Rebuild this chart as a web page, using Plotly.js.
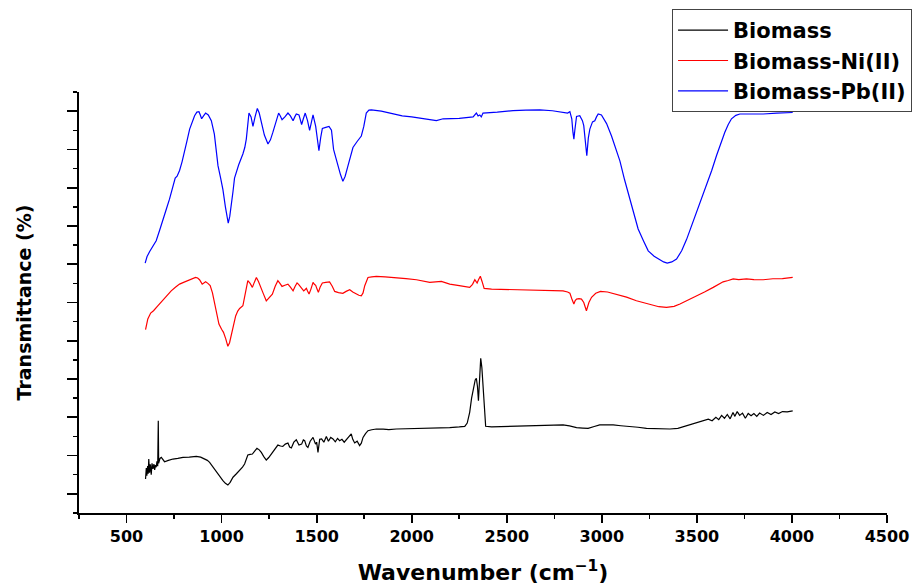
<!DOCTYPE html>
<html>
<head>
<meta charset="utf-8">
<script src="https://cdn.plot.ly/plotly-3.0.1.min.js"></script>
<style>html,body{margin:0;padding:0;background:#fff;}#chart{width:913px;height:585px;}</style>
</head>
<body>
<div id="chart"></div>
<script>
// Series names
const seriesNames = ["Biomass", "Biomass-Ni(II)", "Biomass-Pb(II)"];

// Biomass (black) – wavenumber / transmittance (arbitrary offset units)
const biomassX = [600,604,607,611,614,617,621,625,630,634,639,644,648,652,656,660,664,667,669,672,676,683,690,700,720,744,770,797,830,867,890,911,925,937,955,972,990,1007,1020,1033,1045,1060,1078,1095,1110,1121,1130,1138,1150,1162,1175,1186,1198,1209,1222,1235,1248,1261,1278,1296,1310,1322,1335,1349,1358,1367,1380,1393,1407,1421,1430,1437,1446,1454,1466,1481,1494,1500,1507,1516,1526,1538,1551,1562,1574,1586,1598,1610,1621,1633,1645,1656,1668,1682,1690,1700,1713,1726,1735,1744,1757,1770,1790,1814,1850,1880,1919,1960,2000,2025,2060,2095,2150,2200,2250,2279,2292,2305,2315,2326,2334,2340,2346,2351,2357,2363,2369,2375,2382,2389,2420,2480,2533,2600,2700,2796,2830,2867,2900,2928,2960,2989,3030,3060,3100,3147,3190,3235,3300,3358,3400,3446,3490,3533,3560,3580,3600,3615,3630,3645,3660,3675,3690,3700,3712,3725,3740,3755,3770,3785,3800,3815,3830,3850,3870,3890,3910,3930,3950,3975,4004];
const biomassY = [1.78,2.35,1.95,2.45,2.05,2.82,2.1,2.55,2.0,2.6,2.3,2.56,2.25,2.5,2.39,2.7,2.45,4.82,2.6,2.75,2.85,2.91,2.8,2.68,2.75,2.82,2.85,2.91,2.92,2.96,2.92,2.82,2.75,2.65,2.4,2.13,1.9,1.69,1.55,1.46,1.6,1.87,2.05,2.21,2.4,2.56,2.8,3.03,3.06,3.08,3.25,3.38,3.3,3.17,2.95,2.77,2.9,3.08,3.3,3.55,3.5,3.48,3.6,3.66,3.45,3.4,3.7,3.83,3.55,3.6,3.82,3.78,3.5,3.43,3.75,3.95,3.6,3.7,3.17,3.85,3.87,3.7,4.0,3.75,3.95,3.87,3.72,3.9,3.78,3.85,3.7,3.83,3.95,4.13,3.85,3.66,3.75,3.52,3.65,3.95,4.15,4.3,4.35,4.39,4.38,4.36,4.39,4.4,4.42,4.42,4.42,4.42,4.44,4.46,4.5,4.53,4.7,5.26,6.0,6.65,6.95,7.04,6.6,5.87,7.0,8.08,7.6,6.83,5.6,4.53,4.5,4.52,4.53,4.55,4.58,4.6,4.55,4.46,4.44,4.42,4.52,4.6,4.6,4.6,4.56,4.53,4.48,4.42,4.4,4.39,4.42,4.56,4.7,4.82,4.9,4.82,5.0,4.88,5.1,4.95,5.15,4.92,5.25,5.05,5.3,5.1,5.22,4.95,5.2,5.08,5.2,5.05,5.22,5.1,5.25,5.15,5.28,5.2,5.3,5.28,5.34];

// Biomass-Ni(II) (red)
const niX = [600,606,612,627,642,662,683,710,735,757,779,800,823,845,863,874,884,898,916,928,940,952,963,975,986,1000,1010,1022,1033,1042,1051,1062,1074,1085,1095,1112,1125,1138,1150,1162,1172,1183,1194,1204,1220,1235,1250,1267,1282,1296,1307,1318,1333,1349,1362,1376,1387,1397,1405,1414,1422,1432,1440,1446,1452,1460,1470,1481,1488,1495,1502,1509,1518,1530,1548,1568,1582,1595,1615,1638,1655,1674,1690,1709,1722,1735,1744,1753,1762,1770,1790,1814,1860,1919,1970,2025,2060,2095,2156,2200,2250,2305,2320,2332,2338,2344,2352,2361,2370,2381,2420,2533,2650,2796,2820,2832,2842,2853,2860,2867,2880,2893,2905,2919,2932,2946,2968,2993,3030,3077,3130,3182,3230,3270,3300,3340,3380,3411,3450,3498,3540,3586,3610,3638,3665,3691,3720,3761,3800,3849,3900,3950,4004];
const niY = [9.58,9.9,10.14,10.45,10.57,10.8,11.04,11.35,11.61,11.8,11.96,12.05,12.14,12.22,12.31,12.28,12.19,11.96,12.08,12.0,11.88,11.5,11.0,10.4,9.87,9.6,9.44,9.1,8.71,8.9,9.26,9.8,10.3,10.55,10.69,10.83,11.4,12.14,12.0,11.79,12.05,12.31,12.1,11.88,11.45,11.09,11.25,11.44,11.85,12.14,12.0,11.84,11.9,11.96,11.8,11.61,11.85,12.02,11.95,11.84,11.7,11.61,11.68,11.74,11.6,11.44,11.7,12.05,11.95,11.9,11.7,11.53,11.8,12.02,12.05,12.08,11.85,11.58,11.52,11.48,11.58,11.67,11.55,11.44,11.38,11.35,11.5,11.88,12.15,12.31,12.34,12.37,12.34,12.31,12.25,12.19,12.12,12.05,12.1,11.96,11.88,11.79,11.95,12.19,12.1,12.02,12.2,12.37,12.1,11.74,11.7,11.67,11.64,11.61,11.55,11.49,11.2,10.92,11.1,11.18,11.2,11.18,11.0,10.57,11.0,11.27,11.48,11.58,11.55,11.44,11.28,11.09,10.95,10.83,10.78,10.75,10.8,10.92,11.1,11.35,11.55,11.79,11.92,12.08,12.15,12.23,12.2,12.23,12.2,12.19,12.24,12.25,12.31];

// Biomass-Pb(II) (blue)
const pbX = [598,608,621,640,656,675,691,710,726,742,756,766,779,792,805,818,832,845,858,870,881,888,895,905,916,930,946,962,981,995,1007,1020,1028,1035,1043,1051,1060,1068,1090,1112,1122,1130,1138,1144,1155,1165,1176,1188,1198,1209,1225,1244,1257,1270,1285,1300,1309,1318,1333,1349,1362,1376,1385,1393,1407,1414,1421,1430,1440,1452,1463,1472,1481,1495,1505,1512,1521,1530,1548,1565,1578,1589,1600,1612,1625,1638,1650,1665,1678,1691,1712,1735,1748,1761,1775,1788,1840,1902,1950,2000,2050,2095,2130,2165,2250,2323,2332,2340,2349,2358,2366,2375,2450,2533,2600,2674,2740,2796,2820,2832,2842,2848,2853,2858,2867,2884,2898,2905,2913,2921,2929,2937,2951,2963,2972,2981,2998,3025,3051,3075,3095,3120,3147,3170,3191,3220,3244,3275,3305,3325,3344,3368,3393,3420,3446,3470,3498,3525,3551,3578,3603,3625,3647,3665,3682,3705,3726,3780,3849,3920,4004];
const pbY = [13.06,13.4,13.65,13.95,14.23,14.8,15.36,15.9,16.4,16.95,17.5,17.6,17.9,18.35,18.85,19.45,20.06,20.45,20.76,20.95,20.97,20.8,20.6,20.75,20.9,20.8,20.5,19.8,18.15,17.5,16.9,16.0,15.45,15.15,15.5,16.05,16.8,17.5,18.2,18.76,19.1,19.54,20.3,20.9,20.7,20.2,20.7,21.14,20.9,20.4,19.75,19.28,19.5,19.9,20.4,20.9,20.75,20.55,20.7,20.9,20.75,20.5,20.7,20.85,20.8,20.6,20.3,20.6,20.9,20.5,20.0,20.4,20.8,20.2,19.5,18.93,19.6,20.1,20.15,20.2,20.0,19.0,18.6,18.15,17.7,17.33,17.6,18.15,18.7,19.1,19.4,19.7,20.2,20.9,21.05,21.07,21.0,20.85,20.75,20.7,20.62,20.55,20.5,20.6,20.62,20.7,20.8,20.9,20.75,20.8,20.7,20.9,20.95,21.03,21.05,21.07,21.02,20.93,20.9,20.97,20.6,19.9,19.54,20.0,20.72,20.76,20.5,20.24,19.5,18.67,19.6,20.06,20.44,20.5,20.7,20.85,20.8,20.35,19.7,19.05,18.4,17.4,16.4,15.6,14.84,14.2,13.7,13.42,13.23,13.12,13.06,13.12,13.27,13.7,14.3,14.95,15.71,16.4,17.1,17.9,18.67,19.3,19.9,20.3,20.6,20.78,20.85,20.85,20.85,20.9,20.93];

// Axis tick labels
const xTickVals = [500,1000,1500,2000,2500,3000,3500,4000,4500];
const xTickText = ["500","1000","1500","2000","2500","3000","3500","4000","4500"];

const FONT = "DejaVu Sans, Liberation Sans, Arial, sans-serif";

const traces = [
  {x: biomassX, y: biomassY, name: seriesNames[0], type: "scatter", mode: "lines", line: {color: "#000000", width: 1.2}},
  {x: niX, y: niY, name: seriesNames[1], type: "scatter", mode: "lines", line: {color: "#ff0000", width: 1.2}},
  {x: pbX, y: pbY, name: seriesNames[2], type: "scatter", mode: "lines", line: {color: "#0000ff", width: 1.2}}
];

const layout = {
  width: 913, height: 585,
  paper_bgcolor: "#ffffff", plot_bgcolor: "#ffffff",
  margin: {l: 79, r: 26, t: 92, b: 72, autoexpand: false},
  showlegend: true,
  legend: {
    x: 1.031, xanchor: "right", y: 1.197, yanchor: "top",
    bgcolor: "#ffffff", bordercolor: "#444444", borderwidth: 1,
    font: {family: FONT, size: 21, color: "#000000", weight: "bold"},
    itemwidth: 50, tracegroupgap: 0
  },
  xaxis: {
    range: [250, 4500], autorange: false,
    tickvals: xTickVals, ticktext: xTickText,
    ticks: "outside", ticklen: 8, tickwidth: 1.8, tickcolor: "#000",
    minor: {dtick: 250, tick0: 250, ticks: "outside", ticklen: 4, tickwidth: 1.5, tickcolor: "#000", showgrid: false},
    showline: true, linecolor: "#000", linewidth: 1.8,
    showgrid: false, zeroline: false,
    tickfont: {family: FONT, size: 16, color: "#000", weight: "bold"},
    title: {text: "Wavenumber (cm<sup>\u22121</sup>)", font: {family: FONT, size: 22, color: "#000", weight: "bold"}, standoff: 22}
  },
  yaxis: {
    range: [0, 22], autorange: false,
    tick0: 1, dtick: 2,
    ticks: "outside", ticklen: 10, tickwidth: 1.8, tickcolor: "#000",
    minor: {dtick: 1, tick0: 0, ticks: "outside", ticklen: 4, tickwidth: 1.5, tickcolor: "#000", showgrid: false},
    showticklabels: false,
    showline: true, linecolor: "#000", linewidth: 1.8,
    showgrid: false, zeroline: false,
    title: {text: "Transmittance (%)", font: {family: FONT, size: 19, color: "#000", weight: "bold"}, standoff: 30}
  }
};

Plotly.newPlot("chart", traces, layout, {displayModeBar: false, staticPlot: true});
</script>
</body>
</html>
